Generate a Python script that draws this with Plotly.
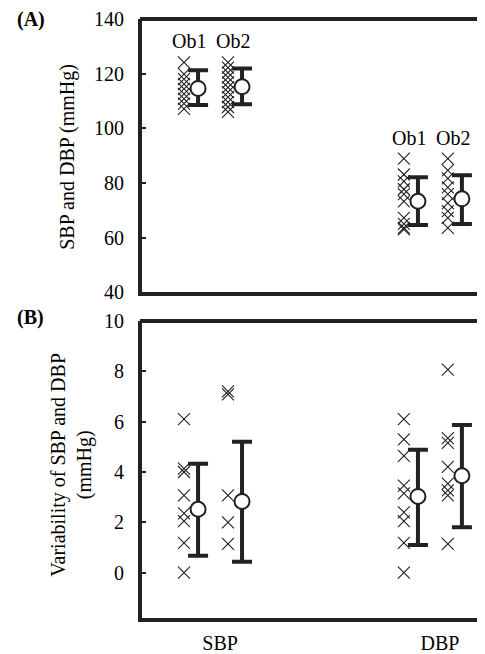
import plotly.graph_objects as go

# ---------------- data ----------------
categories = ["SBP", "DBP"]
observers = ["Ob1", "Ob2"]

# Panel A: individual values (mmHg)
a_sbp_ob1 = [124.1, 119.8, 118.0, 116.2, 114.4, 112.6, 110.8, 109.0, 107.1]
a_sbp_ob2 = [124.1, 122.2, 120.4, 118.6, 116.8, 115.0, 113.2, 111.4, 109.6, 107.8, 106.0]
a_dbp_ob1 = [88.9, 83.1, 80.6, 77.7, 75.9, 73.3, 67.2, 65.0, 63.6, 63.0]
a_dbp_ob2 = [88.9, 84.6, 81.7, 78.4, 75.9, 72.6, 69.7, 67.2, 63.6]
# Panel A: means and error limits
a_means = {"SBP": [114.6, 115.2], "DBP": [73.3, 74.2]}
a_upper = {"SBP": [121.2, 121.9], "DBP": [82.1, 82.8]}
a_lower = {"SBP": [108.5, 108.8], "DBP": [64.6, 65.0]}

# Panel B: variability values (mmHg)
b_sbp_ob1 = [6.1, 4.13, 4.0, 3.07, 2.36, 2.05, 1.18, 0.0]
b_sbp_ob2 = [7.2, 7.08, 3.07, 2.0, 1.14]
b_dbp_ob1 = [6.1, 5.3, 4.64, 3.46, 3.15, 2.4, 2.05, 1.18, 0.0]
b_dbp_ob2 = [8.07, 5.35, 5.16, 4.2, 3.54, 3.27, 3.07, 1.14]
b_means = {"SBP": [2.52, 2.83], "DBP": [3.03, 3.85]}
b_upper = {"SBP": [4.33, 5.2], "DBP": [4.88, 5.87]}
b_lower = {"SBP": [0.67, 0.43], "DBP": [1.1, 1.81]}

a_ticks = [40, 60, 80, 100, 120, 140]
b_ticks = [0, 2, 4, 6, 8, 10]

# ---------------- figure ----------------
FONT = "Liberation Serif, Times New Roman, serif"
INK = "#222"
cat_pos = {"SBP": 1.0, "DBP": 2.0}
mean_off = [-0.1, 0.1]
cross_off = -0.064

fig = go.Figure()

def add_panel(points, means, upper, lower, xa, ya):
    for cat in categories:
        for k, ob in enumerate(observers):
            xm = cat_pos[cat] + mean_off[k]
            vals = points[cat][k]
            fig.add_trace(go.Scatter(
                x=[xm + cross_off] * len(vals), y=vals, mode="markers",
                marker=dict(symbol="x-thin-open", size=12, color=INK,
                            line=dict(width=1.1, color=INK)),
                xaxis=xa, yaxis=ya, showlegend=False, hoverinfo="y"))
            m = means[cat][k]
            fig.add_trace(go.Scatter(
                x=[xm], y=[m], mode="markers",
                marker=dict(symbol="circle", size=15, color="white",
                            line=dict(width=2, color=INK)),
                error_y=dict(type="data", symmetric=False,
                             array=[upper[cat][k] - m],
                             arrayminus=[m - lower[cat][k]],
                             thickness=4, width=10, color=INK),
                xaxis=xa, yaxis=ya, showlegend=False, hoverinfo="y"))

add_panel({"SBP": [a_sbp_ob1, a_sbp_ob2], "DBP": [a_dbp_ob1, a_dbp_ob2]},
          a_means, a_upper, a_lower, "x", "y")
add_panel({"SBP": [b_sbp_ob1, b_sbp_ob2], "DBP": [b_dbp_ob1, b_dbp_ob2]},
          b_means, b_upper, b_lower, "x2", "y2")

# Ob labels in panel A
label_y = {"SBP": 132.0, "DBP": 96.5}
for cat in categories:
    for k, ob in enumerate(observers):
        fig.add_annotation(x=cat_pos[cat] + mean_off[k] - 0.04, y=label_y[cat],
                           xref="x", yref="y", text=ob, showarrow=False,
                           font=dict(family=FONT, size=20, color="black"))

xr = [0.645, 2.205]
axis_common = dict(showline=True, linewidth=4, linecolor=INK, mirror=False,
                   showgrid=False, zeroline=False)
fig.update_layout(
    width=477, height=646,
    margin=dict(l=134, r=0, t=8, b=33),
    plot_bgcolor="white", paper_bgcolor="white",
    font=dict(family=FONT, size=20, color="black"),
    xaxis=dict(domain=[0, 1], range=xr, anchor="y", showticklabels=False,
               ticks="", **axis_common),
    yaxis=dict(domain=[0.5438, 1.0], range=[40, 140], anchor="x",
               tickvals=a_ticks, ticks="inside", ticklen=4, tickwidth=2,
               tickcolor=INK, ticklabelstandoff=10, **axis_common),
    xaxis2=dict(domain=[0, 1], range=xr, anchor="y2",
                tickvals=[cat_pos[c] for c in categories], ticktext=categories,
                ticks="", ticklabelstandoff=4, **axis_common),
    yaxis2=dict(domain=[0.0, 0.4959], range=[-1.8, 10], anchor="x2",
                tickvals=b_ticks, ticks="inside", ticklen=4, tickwidth=2,
                tickcolor=INK, ticklabelstandoff=10, **axis_common),
)

# top borders of both panels
for ydom in ["y domain", "y2 domain"]:
    fig.add_shape(type="line", xref="paper", yref=ydom, x0=-0.006, x1=1.0,
                  y0=1, y1=1, line=dict(color=INK, width=4))

# axis titles and panel letters
fig.add_annotation(text="SBP and DBP (mmHg)", textangle=-90, xref="paper",
                   yref="paper", x=-0.2157, y=0.77, xanchor="center",
                   yanchor="middle", showarrow=False,
                   font=dict(family=FONT, size=20))
fig.add_annotation(text="Variability of SBP and DBP<br>(mmHg)", textangle=-90,
                   xref="paper", yref="paper", x=-0.204, y=0.256,
                   xanchor="center", yanchor="middle", showarrow=False,
                   font=dict(family=FONT, size=20))
fig.add_annotation(text="<b>(A)</b>", xref="paper", yref="paper", x=-0.37,
                   y=1.021, xanchor="left", yanchor="top", showarrow=False,
                   font=dict(family=FONT, size=20))
fig.add_annotation(text="<b>(B)</b>", xref="paper", yref="paper", x=-0.37,
                   y=0.524, xanchor="left", yanchor="top", showarrow=False,
                   font=dict(family=FONT, size=20))

fig.write_html("out.html")
